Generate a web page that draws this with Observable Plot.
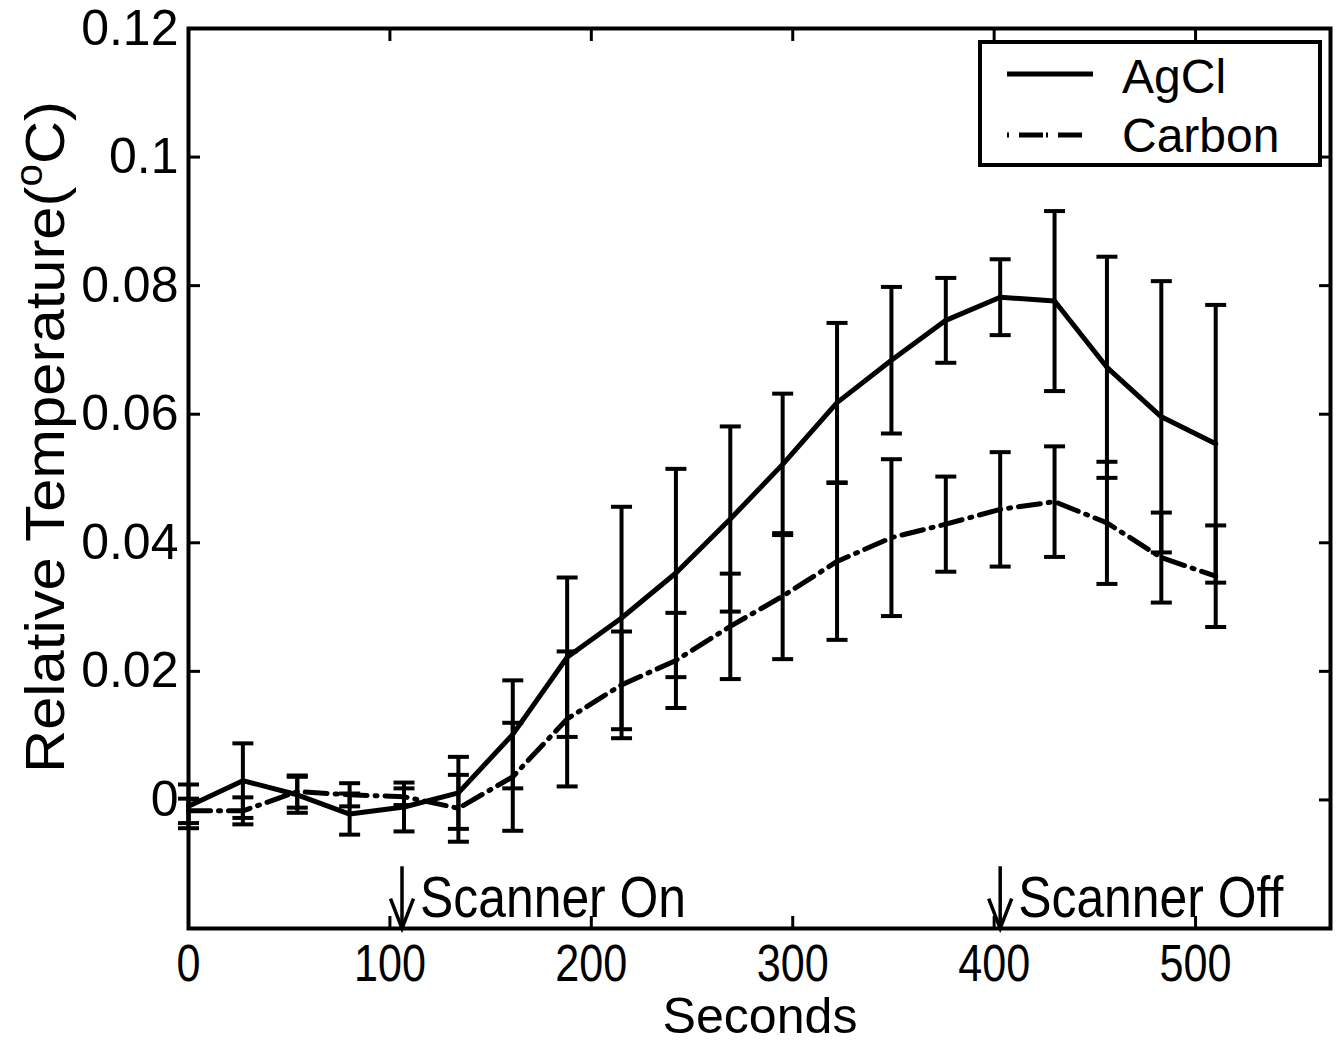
<!DOCTYPE html>
<html><head><meta charset="utf-8">
<script src="https://cdn.jsdelivr.net/npm/d3@7"></script>
<script src="https://cdn.jsdelivr.net/npm/@observablehq/plot@0.6"></script>
<style>body{margin:0;background:#fff} #chart{width:1339px;height:1042px}</style>
</head><body><div id="chart"></div>
<script>
// ---- data ----
const times      = [0, 27, 54, 80, 107, 134, 161, 188, 215, 242, 269, 295, 322, 349, 376, 403, 430, 456, 483, 510];
const agclMean   = [-0.0010, 0.0030, 0.0008, -0.0022, -0.0011, 0.0011, 0.0102, 0.0222, 0.0283, 0.0353, 0.0437, 0.0522, 0.0618, 0.0684, 0.0746, 0.0782, 0.0776, 0.0673, 0.0596, 0.0554];
const agclErr    = [0.0034, 0.0058, 0.0028, 0.0032, 0.0038, 0.0056, 0.0084, 0.0124, 0.0173, 0.0162, 0.0144, 0.0110, 0.0124, 0.0114, 0.0066, 0.0059, 0.0140, 0.0172, 0.0211, 0.0216];
const carbonMean = [-0.0017, -0.0017, 0.0013, 0.0008, 0.0005, -0.0013, 0.0036, 0.0126, 0.0179, 0.0217, 0.0270, 0.0317, 0.0371, 0.0408, 0.0429, 0.0452, 0.0464, 0.0431, 0.0377, 0.0348];
const carbonErr  = [0.0019, 0.0021, 0.0025, 0.0018, 0.0013, 0.0052, 0.0084, 0.0105, 0.0083, 0.0074, 0.0082, 0.0098, 0.0122, 0.0122, 0.0074, 0.0089, 0.0086, 0.0095, 0.0070, 0.0079];
const seriesNames = ["AgCl", "Carbon"];
const xTicks = [0, 100, 200, 300, 400, 500];
const yTicks = [0, 0.02, 0.04, 0.06, 0.08, 0.1, 0.12];
const xDomain = [0, 567];
const yDomain = [-0.02, 0.12];
const scannerTimes  = [106, 403];
const scannerLabels = ["Scanner On", "Scanner Off"];
const arrowTop = -0.0104, arrowBottom = -0.02, scannerLabelY = -0.0153;
const xLabel = "Seconds";

// ---- tables built from the arrays ----
const agcl = times.map((t, i) => ({t, v: agclMean[i], lo: agclMean[i] - agclErr[i], hi: agclMean[i] + agclErr[i]}));
const carbon = times.map((t, i) => ({t, v: carbonMean[i], lo: carbonMean[i] - carbonErr[i], hi: carbonMean[i] + carbonErr[i]}));
const caps = [...agcl, ...carbon].flatMap(d => [{t: d.t, y: d.lo}, {t: d.t, y: d.hi}]);
const scanner = scannerTimes.map((t, i) => ({t, label: scannerLabels[i], y1: arrowTop, y2: arrowBottom, ly: scannerLabelY}));

const capSymbol = {draw(ctx, size) { const r = Math.sqrt(size / Math.PI); ctx.moveTo(-r, 0); ctx.lineTo(r, 0); }};
const headSymbol = {draw(ctx, size) { const r = Math.sqrt(size / Math.PI); ctx.moveTo(-r, -2.6 * r); ctx.lineTo(0, 0); ctx.lineTo(r, -2.6 * r); }};
const FONT = "'Liberation Sans', Arial, Helvetica, sans-serif";

const chart = Plot.plot({
  width: 1339, height: 1042,
  marginLeft: 188, marginRight: 9, marginTop: 28, marginBottom: 114,
  style: {fontFamily: FONT, background: "white", color: "black", overflow: "visible"},
  x: {domain: xDomain, axis: null},
  y: {domain: yDomain, axis: null},
  marks: [
    Plot.ruleX(agcl, {x: "t", y1: "lo", y2: "hi", strokeWidth: 4}),
    Plot.ruleX(carbon, {x: "t", y1: "lo", y2: "hi", strokeWidth: 4}),
    Plot.dot(caps, {x: "t", y: "y", r: 10.5, symbol: capSymbol, fill: "none", stroke: "black", strokeWidth: 4}),
    Plot.line(agcl, {x: "t", y: "v", strokeWidth: 5, strokeLinejoin: "round"}),
    Plot.line(carbon, {x: "t", y: "v", strokeWidth: 5, strokeDasharray: "22,8,2,8"}),
    // scanner arrows: shaft + open V head
    Plot.ruleX(scanner, {x: "t", y1: "y1", y2: "y2", strokeWidth: 3.5}),
    Plot.dot(scanner, {x: "t", y: "y2", r: 11.5, symbol: headSymbol, fill: "none", stroke: "black", strokeWidth: 3.5, strokeLinejoin: "miter"}),
    Plot.text(scanner, {x: "t", y: "ly", text: "label", textAnchor: "start", dx: 18, fontSize: 58}),
    Plot.axisX({anchor: "bottom", ticks: xTicks, tickSize: -12, tickPadding: 28, fontSize: 52, strokeWidth: 3, label: null}),
    Plot.axisX({anchor: "top", ticks: xTicks, tickSize: -12, tickFormat: () => "", strokeWidth: 3, label: null}),
    Plot.axisY({anchor: "left", ticks: yTicks, tickSize: -12, tickPadding: 22, fontSize: 50, strokeWidth: 3, tickFormat: d => String(d), label: null}),
    Plot.axisY({anchor: "right", ticks: yTicks, tickSize: -12, tickFormat: () => "", strokeWidth: 3, label: null}),
    Plot.frame({strokeWidth: 4})
  ]
});
document.getElementById("chart").append(chart);

const svg = d3.select(chart);
// horizontally condense a text around its anchor, keeping its own x/y/dy attributes
function condense(el, s) {
  const t = el.getAttribute("transform") || "";
  const xa = el.getAttribute("x");
  if (xa != null && !isNaN(+xa)) el.setAttribute("x", (+xa) / s);
  el.setAttribute("transform", `${t} scale(${s},1)`);
}
svg.selectAll('g[aria-label="x-axis tick label"] text').each(function() { condense(this, 0.83); });
svg.selectAll('g[aria-label="text"] text').each(function() { condense(this, 0.86); });

// axis titles
svg.append("text").attr("x", 760).attr("y", 1033).attr("text-anchor", "middle")
  .attr("font-family", FONT).attr("font-size", 50).attr("textLength", 195).attr("lengthAdjust", "spacingAndGlyphs")
  .text(xLabel);
const yl = svg.append("text").attr("transform", "translate(64,437) rotate(-90)").attr("text-anchor", "middle")
  .attr("font-family", FONT).attr("font-size", 56).attr("textLength", 672).attr("lengthAdjust", "spacingAndGlyphs");
yl.append("tspan").text("Relative Temperature(");
yl.append("tspan").attr("font-size", 38).attr("dy", -22).text("o");
yl.append("tspan").attr("font-size", 56).attr("dy", 22).text("C)");

// legend
const lg = svg.append("g").attr("text-anchor", "start");
lg.append("rect").attr("x", 980).attr("y", 42).attr("width", 340).attr("height", 123)
  .attr("fill", "white").attr("stroke", "black").attr("stroke-width", 4);
lg.append("line").attr("x1", 1007).attr("x2", 1093).attr("y1", 74).attr("y2", 74).attr("stroke", "black").attr("stroke-width", 5);
lg.append("line").attr("x1", 1007).attr("x2", 1083).attr("y1", 135).attr("y2", 135).attr("stroke", "black").attr("stroke-width", 5)
  .attr("stroke-dasharray", "2,10,24,3");
lg.append("text").attr("x", 1122).attr("y", 93).attr("text-anchor", "start").attr("font-family", FONT).attr("font-size", 48).text(seriesNames[0]);
lg.append("text").attr("x", 1122).attr("y", 152).attr("text-anchor", "start").attr("font-family", FONT).attr("font-size", 48).text(seriesNames[1]);
</script>
</body></html>
